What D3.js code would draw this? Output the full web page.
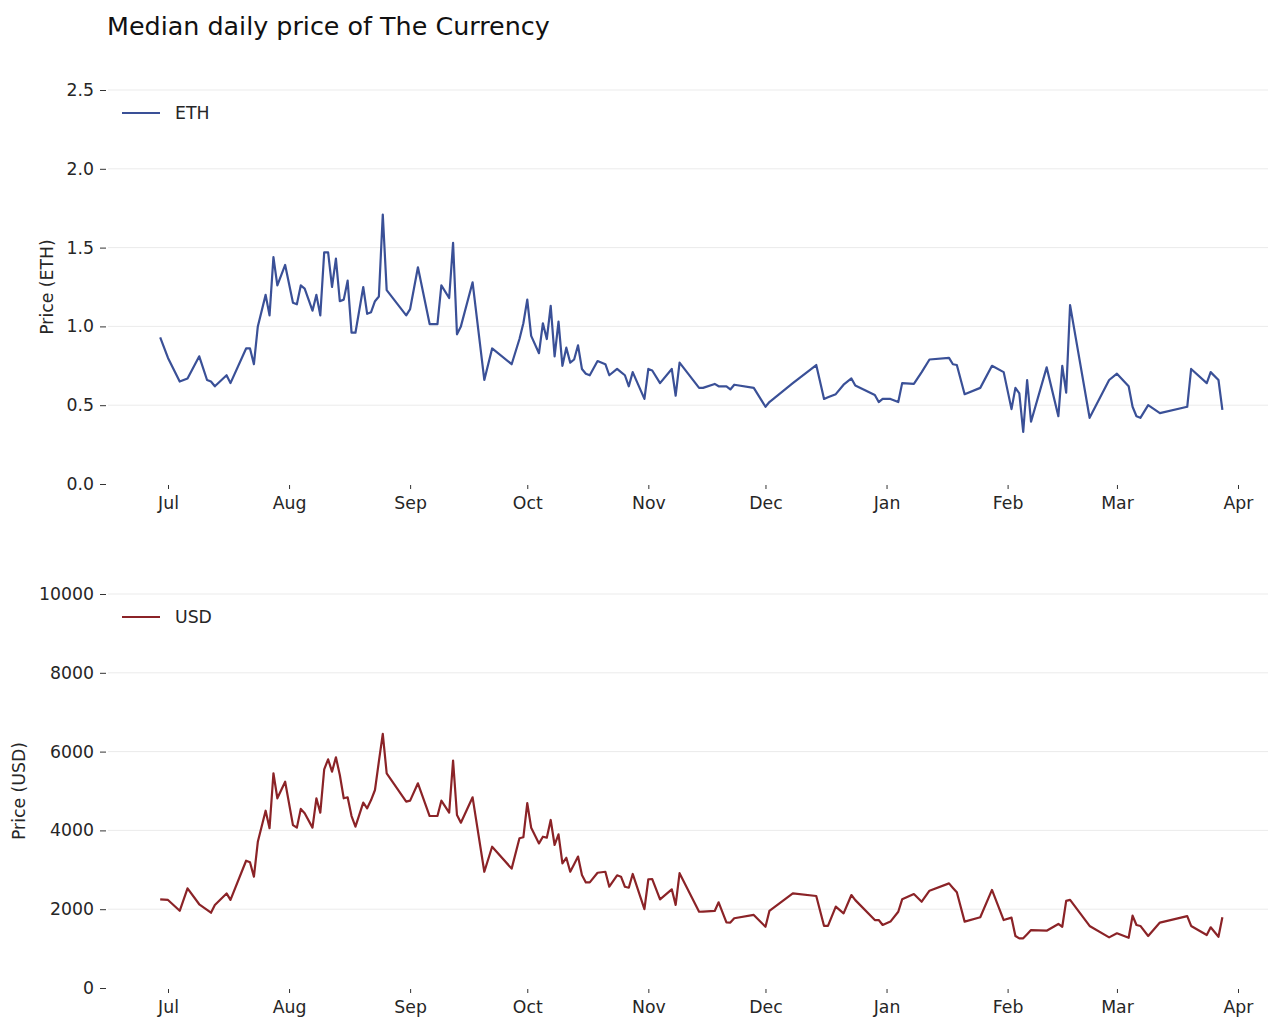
<!DOCTYPE html>
<html>
<head>
<meta charset="utf-8">
<script src="https://cdn.jsdelivr.net/npm/d3@7"></script>
<style>
  html, body { margin: 0; padding: 0; background: #fff; }
  svg text { font-family: "DejaVu Sans", sans-serif; fill: #262626; }
</style>
</head>
<body>
<svg id="chart" width="1268" height="1019"></svg>
<script>
const dates = [
"2018-06-29","2018-07-01","2018-07-04","2018-07-06","2018-07-09","2018-07-11","2018-07-12","2018-07-13",
"2018-07-16","2018-07-17","2018-07-21","2018-07-22","2018-07-23","2018-07-24","2018-07-26","2018-07-27",
"2018-07-28","2018-07-29","2018-07-31","2018-08-02","2018-08-03","2018-08-04","2018-08-05","2018-08-07",
"2018-08-08","2018-08-09","2018-08-10","2018-08-11","2018-08-12","2018-08-13","2018-08-14","2018-08-15",
"2018-08-16","2018-08-17","2018-08-18","2018-08-20","2018-08-21","2018-08-22","2018-08-23","2018-08-24",
"2018-08-25","2018-08-26","2018-08-31","2018-09-01","2018-09-03","2018-09-06","2018-09-08","2018-09-09",
"2018-09-11","2018-09-12","2018-09-13","2018-09-14","2018-09-17","2018-09-20","2018-09-22","2018-09-27",
"2018-09-29","2018-09-30","2018-10-01","2018-10-02","2018-10-04","2018-10-05","2018-10-06","2018-10-07",
"2018-10-08","2018-10-09","2018-10-10","2018-10-11","2018-10-12","2018-10-13","2018-10-14","2018-10-15",
"2018-10-16","2018-10-17","2018-10-19","2018-10-21","2018-10-22","2018-10-24","2018-10-25","2018-10-26",
"2018-10-27","2018-10-28","2018-10-31","2018-11-01","2018-11-02","2018-11-04","2018-11-07","2018-11-08",
"2018-11-09","2018-11-14","2018-11-15","2018-11-18","2018-11-19","2018-11-21","2018-11-22","2018-11-23",
"2018-11-28","2018-12-01","2018-12-02","2018-12-08","2018-12-14","2018-12-16","2018-12-17","2018-12-19",
"2018-12-21","2018-12-23","2018-12-24","2018-12-29","2018-12-30","2018-12-31","2019-01-02","2019-01-04",
"2019-01-05","2019-01-08","2019-01-10","2019-01-12","2019-01-17","2019-01-18","2019-01-19","2019-01-21",
"2019-01-25","2019-01-28","2019-01-31","2019-02-02","2019-02-03","2019-02-04","2019-02-05","2019-02-06",
"2019-02-07","2019-02-11","2019-02-14","2019-02-15","2019-02-16","2019-02-17","2019-02-22","2019-02-27",
"2019-03-01","2019-03-04","2019-03-05","2019-03-06","2019-03-07","2019-03-09","2019-03-12","2019-03-19",
"2019-03-20","2019-03-24","2019-03-25","2019-03-27","2019-03-28"
];

const priceEth = [
0.93,0.80,0.65,0.67,0.81,0.66,0.65,0.62,
0.69,0.64,0.86,0.86,0.76,1.00,1.20,1.07,
1.44,1.26,1.39,1.15,1.14,1.26,1.24,1.10,
1.20,1.07,1.47,1.47,1.25,1.43,1.16,1.17,
1.29,0.96,0.96,1.25,1.08,1.09,1.16,1.19,
1.71,1.23,1.07,1.11,1.375,1.015,1.015,1.26,
1.18,1.53,0.95,1.00,1.28,0.66,0.86,0.76,
0.92,1.02,1.17,0.94,0.83,1.02,0.92,1.13,
0.81,1.03,0.75,0.865,0.77,0.79,0.88,0.73,
0.70,0.69,0.78,0.76,0.69,0.73,0.71,0.69,
0.62,0.71,0.54,0.73,0.72,0.64,0.73,0.56,
0.77,0.61,0.61,0.635,0.62,0.62,0.60,0.63,
0.61,0.49,0.52,0.64,0.755,0.54,0.55,0.57,
0.63,0.67,0.625,0.565,0.52,0.54,0.54,0.52,
0.64,0.635,0.71,0.79,0.80,0.76,0.755,0.57,
0.61,0.75,0.71,0.475,0.61,0.575,0.33,0.66,
0.395,0.74,0.43,0.75,0.58,1.135,0.42,0.66,
0.70,0.62,0.49,0.43,0.42,0.50,0.45,0.49,
0.73,0.64,0.71,0.66,0.47
];

const priceUsd = [
2250,2235,1960,2530,2125,1985,1910,2105,
2400,2235,3230,3190,2825,3710,4500,4055,
5450,4815,5235,4135,4070,4545,4435,4070,
4815,4450,5550,5805,5490,5855,5405,4815,
4840,4365,4095,4705,4560,4770,5025,5750,
6450,5450,4730,4755,5195,4365,4365,4755,
4450,5770,4390,4195,4840,2950,3585,3030,
3800,3825,4690,4070,3670,3840,3815,4265,
3630,3900,3165,3305,2950,3140,3335,2870,
2680,2680,2925,2950,2570,2860,2825,2570,
2545,2895,2000,2760,2765,2250,2505,2110,
2915,1935,1940,1955,2175,1665,1660,1770,
1855,1555,1955,2400,2335,1575,1575,2065,
1895,2360,2230,1725,1725,1600,1685,1935,
2250,2385,2190,2470,2655,2540,2430,1685,
1795,2490,1725,1785,1320,1260,1260,1365,
1470,1455,1625,1555,2210,2235,1575,1285,
1390,1275,1835,1600,1575,1320,1660,1825,
1575,1345,1540,1300,1795
];

const xTickDates = ["2018-07-01","2018-08-01","2018-09-01","2018-10-01","2018-11-01","2018-12-01","2019-01-01","2019-02-01","2019-03-01","2019-04-01"];
const xTickLabels = ["Jul","Aug","Sep","Oct","Nov","Dec","Jan","Feb","Mar","Apr"];
const ethTicks = [0.0, 0.5, 1.0, 1.5, 2.0, 2.5];
const usdTicks = [0, 2000, 4000, 6000, 8000, 10000];

const titleText = "Median daily price of The Currency";

const parse = d3.timeParse("%Y-%m-%d");
const svg = d3.select("#chart");

const x = d3.scaleTime()
  .domain([parse("2018-07-01"), parse("2019-04-01")])
  .range([168, 1238]);

const FS = 17.3;

svg.append("text")
  .attr("x", 107).attr("y", 26)
  .attr("dominant-baseline", "central")
  .style("font-size", "25.4px")
  .style("fill", "#111")
  .text(titleText);

function panel(cfg) {
  const y = d3.scaleLinear().domain(cfg.domain).range([cfg.bottom, cfg.top]);
  const g = svg.append("g");

  // gridlines
  g.selectAll("line.grid").data(cfg.ticks.filter(t => t !== 0)).join("line")
    .attr("x1", 108).attr("x2", 1268)
    .attr("y1", d => y(d)).attr("y2", d => y(d))
    .attr("stroke", "#ebebeb").attr("stroke-width", 1);

  // y axis
  const ya = d3.axisLeft(y).tickValues(cfg.ticks).tickSize(6).tickPadding(6).tickFormat(cfg.fmt);
  const yg = g.append("g").attr("transform", "translate(106,0)").call(ya);
  yg.select(".domain").remove();
  yg.selectAll(".tick line").attr("stroke", "#333");
  yg.selectAll(".tick text").style("font-size", FS + "px").style("font-family", "DejaVu Sans").attr("fill", "#262626");

  // x axis
  const xa = d3.axisBottom(x).tickValues(xTickDates.map(parse)).tickSize(4).tickPadding(8)
    .tickFormat((d, i) => xTickLabels[i]);
  const xg = g.append("g").attr("transform", `translate(0,${cfg.bottom + 1})`).call(xa);
  xg.select(".domain").remove();
  xg.selectAll(".tick line").attr("stroke", "#333");
  xg.selectAll(".tick text").style("font-size", FS + "px").style("font-family", "DejaVu Sans").attr("fill", "#262626");

  // y label
  g.append("text")
    .attr("transform", `translate(${cfg.labelX},${(cfg.top + cfg.bottom) / 2}) rotate(-90)`)
    .attr("text-anchor", "middle")
    .attr("dominant-baseline", "central")
    .style("font-size", FS + "px")
    .text(cfg.ylabel);

  // line
  const line = d3.line().x((d, i) => x(parse(dates[i]))).y(d => y(d));
  g.append("path")
    .datum(cfg.values)
    .attr("fill", "none")
    .attr("stroke", cfg.color)
    .attr("stroke-width", 2.2)
    .attr("stroke-linejoin", "round")
    .attr("d", line);

  // legend
  const ly = cfg.top + 23;
  g.append("line").attr("x1", 122).attr("x2", 160).attr("y1", ly).attr("y2", ly)
    .attr("stroke", cfg.color).attr("stroke-width", 2.2);
  g.append("text").attr("x", 175).attr("y", ly)
    .attr("dominant-baseline", "central")
    .style("font-size", FS + "px")
    .text(cfg.name);
}

panel({ domain: [0, 2.5], top: 90, bottom: 484, ticks: ethTicks, fmt: d3.format(".1f"),
        ylabel: "Price (ETH)", labelX: 47, values: priceEth, color: "#3a5097", name: "ETH" });
panel({ domain: [0, 10000], top: 594, bottom: 988, ticks: usdTicks, fmt: d3.format("d"),
        ylabel: "Price (USD)", labelX: 19, values: priceUsd, color: "#8b2327", name: "USD" });
</script>
</body>
</html>
